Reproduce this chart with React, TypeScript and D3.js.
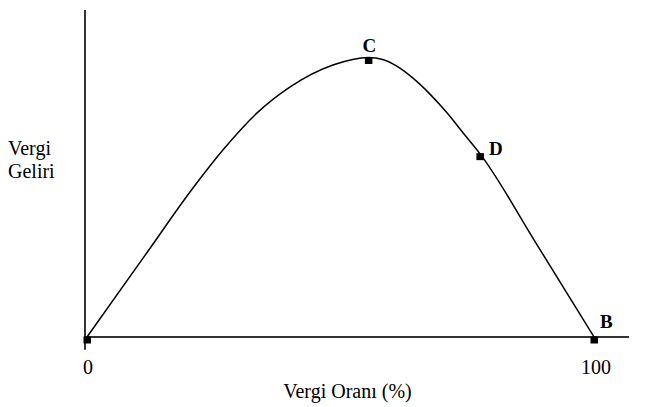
import * as d3 from 'd3'
import { useEffect, useRef } from 'react'

// tax rate (%) vs tax revenue (peak = 100)
const RATE = [0, 11.4, 20.9, 26.8, 33.5, 40, 48.5, 55.5, 58.5, 61.1, 64.3, 67.7, 71, 74.2, 77.5, 88.8, 100]
const REVENUE = [0, 29.1, 53.3, 66.9, 80.1, 89.4, 97.3, 100, 99.2, 96.9, 92.6, 86.8, 80.2, 73, 65.6, 32.9, 0]

const POINT_NAMES = ['', 'C', 'D', 'B']
const POINT_RATE = [0, 55.5, 77.5, 100]
const POINT_REVENUE = [0, 100, 65.6, 0]

const X_TICKS = [0, 100]
const Y_LABEL = ['Vergi', 'Geliri']
const X_LABEL = 'Vergi Oranı (%)'

export default function App() {
  const ref = useRef<HTMLDivElement>(null)

  useEffect(() => {
    const width = 655
    const height = 407
    const font = '"Liberation Serif", "Times New Roman", serif'

    const x = d3.scaleLinear().domain([0, 100]).range([87, 594])
    const y = d3.scaleLinear().domain([0, 100]).range([337, 57.5])

    const svg = d3
      .create('svg')
      .attr('width', width)
      .attr('height', height)
      .attr('viewBox', [0, 0, width, height])
      .attr('style', `position:absolute;left:0;top:0;background:#fff;font-family:${font}`)

    /* axes: plain lines, no ticks */
    svg
      .append('line')
      .attr('x1', x(0) - 2)
      .attr('x2', x(0) - 2)
      .attr('y1', y(-4.6))
      .attr('y2', y(117))
      .attr('stroke', '#333')
      .attr('stroke-width', 2)
    svg
      .append('line')
      .attr('x1', x(0) - 2)
      .attr('x2', x(106.9))
      .attr('y1', y(0))
      .attr('y2', y(0))
      .attr('stroke', '#333')
      .attr('stroke-width', 2)

    /* the curve */
    const data = RATE.map((r, i) => ({ r, v: REVENUE[i] }))
    const line = d3
      .line<{ r: number; v: number }>()
      .x((d) => x(d.r))
      .y((d) => y(d.v))
      .curve(d3.curveMonotoneX)
    svg
      .append('path')
      .attr('d', line(data))
      .attr('fill', 'none')
      .attr('stroke', '#000')
      .attr('stroke-width', 1.5)

    /* point markers and letters */
    const pts = POINT_NAMES.map((name, i) => ({ name, r: POINT_RATE[i], v: POINT_REVENUE[i] }))
    svg
      .append('g')
      .selectAll()
      .data(pts)
      .join('rect')
      .attr('x', (d) => x(d.r) - 3.5)
      .attr('y', (d) => y(d.v) - 0.5)
      .attr('width', 7.5)
      .attr('height', 7)
      .attr('fill', '#000')

    const labelOffset: Record<string, [number, number, string]> = {
      C: [1, -6, 'middle'],
      D: [9, 1, 'start'],
      B: [6, -9, 'start'],
    }
    svg
      .append('g')
      .attr('font-size', 19)
      .attr('font-weight', 'bold')
      .selectAll()
      .data(pts.filter((d) => d.name))
      .join('text')
      .attr('x', (d) => x(d.r) + labelOffset[d.name][0])
      .attr('y', (d) => y(d.v) + labelOffset[d.name][1])
      .attr('text-anchor', (d) => labelOffset[d.name][2])
      .text((d) => d.name)

    /* tick labels */
    svg
      .append('g')
      .attr('font-size', 20)
      .attr('text-anchor', 'middle')
      .selectAll()
      .data(X_TICKS)
      .join('text')
      .attr('x', (d) => x(d) + (d === 100 ? 2 : 1))
      .attr('y', y(0) + 37)
      .text((d) => d)

    /* axis titles */
    svg
      .append('text')
      .attr('x', (x(0) + x(100)) / 2 + 7)
      .attr('y', 398)
      .attr('font-size', 20)
      .attr('text-anchor', 'middle')
      .text(X_LABEL)

    svg
      .append('g')
      .attr('font-size', 20)
      .selectAll()
      .data(Y_LABEL)
      .join('text')
      .attr('x', 8)
      .attr('y', (_, i) => 155 + i * 23)
      .text((d) => d)

    const node = svg.node()
    if (ref.current && node) {
      ref.current.innerHTML = ''
      ref.current.appendChild(node)
    }
  }, [])

  return <div ref={ref} />
}
